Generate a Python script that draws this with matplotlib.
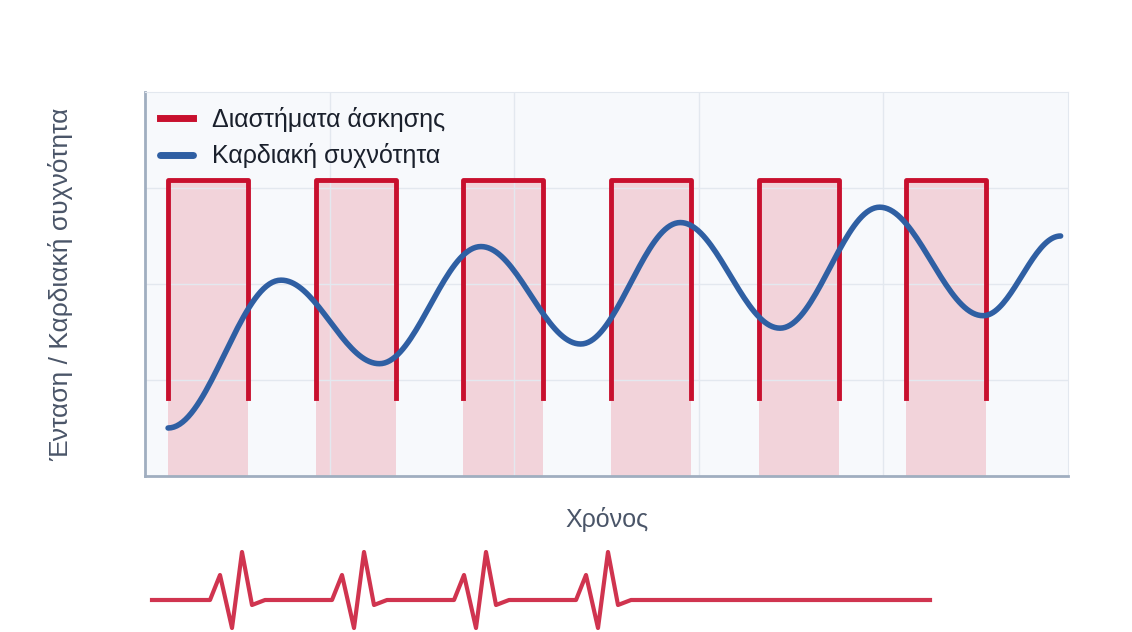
import numpy as np
import matplotlib
matplotlib.use("Agg")
import matplotlib.pyplot as plt

plt.rcParams['font.family'] = ['Liberation Sans', 'DejaVu Sans']

# data
interval_starts = [0.125, 0.925, 1.725, 2.525, 3.325, 4.125]
interval_width = 0.433
low_level = 0.81
high_level = 3.08
hr_x = [0.125, 0.737, 1.27, 1.82, 2.36, 2.90, 3.44, 3.98, 4.54, 4.96]
hr_y = [0.50, 2.04, 1.17, 2.39, 1.375, 2.64, 1.54, 2.80, 1.67, 2.50]

W, H = 1132, 632
fig = plt.figure(figsize=(W/100, H/100), dpi=100)
ax = fig.add_axes([145/W, 1-476/H, (1068-145)/W, (476-92)/H])
ax.set_facecolor("#f7f9fc")
ax.set_xlim(0, 5)
ax.set_ylim(0, 4)
ax.set_xticks([1, 2, 3, 4])
ax.set_yticks([1, 2, 3])
ax.tick_params(length=0, labelleft=False, labelbottom=False)
ax.grid(color="#e3e8ef", lw=1)
for s in ["top", "right"]:
    ax.spines[s].set_color("#e3e8ef")
for s in ["left", "bottom"]:
    ax.spines[s].set_color("#a0aec0")
    ax.spines[s].set_linewidth(2)

red = "#c8102e"
xs, ys = [], []
for x0 in interval_starts:
    x1 = x0 + interval_width
    ax.fill_between([x0, x1], 0, high_level, color="#f2d3da", lw=0, zorder=1)
    xs += [x0, x0, x1, x1, np.nan]
    ys += [low_level, high_level, high_level, low_level, np.nan]
ax.plot(xs, ys, color=red, lw=3.5, zorder=3, label="Διαστήματα άσκησης")

# smooth rendering between read keypoints (cosine easing)
cx, cy = [], []
for i in range(len(hr_x)-1):
    t = np.linspace(0, 1, 40)
    e = (1 - np.cos(np.pi*t))/2
    cx += list(hr_x[i] + (hr_x[i+1]-hr_x[i])*t)
    cy += list(hr_y[i] + (hr_y[i+1]-hr_y[i])*e)
ax.plot(cx, cy, color="#2f5fa3", lw=4, zorder=4, label="Καρδιακή συχνότητα", solid_capstyle="round")

leg = ax.legend(loc="upper left", frameon=False, fontsize=18, handlelength=1.3,
                borderaxespad=0.2, labelspacing=0.45, labelcolor="#1a202c")
for l in leg.get_lines():
    l.set_linewidth(5)
ax.set_xlabel("Χρόνος", fontsize=18, color="#4a5568", labelpad=22)
ax.set_ylabel("Ένταση / Καρδιακή συχνότητα", fontsize=19, color="#4a5568", labelpad=52)

# ECG decoration
ex = fig.add_axes([0, 0, 1, 1], facecolor="none")
ex.set_xlim(0, W); ex.set_ylim(H, 0); ex.axis("off")
px = [152]
py = [600]
for off in [0, 122, 244, 366]:
    b = 210 + off
    px += [b, b+10, b+22, b+32, b+42, b+55]
    py += [600, 575, 628, 552, 605, 600]
px.append(930); py.append(600)
ex.plot(px, py, color="#d0344f", lw=3)

fig.savefig("out.png", dpi=100)
